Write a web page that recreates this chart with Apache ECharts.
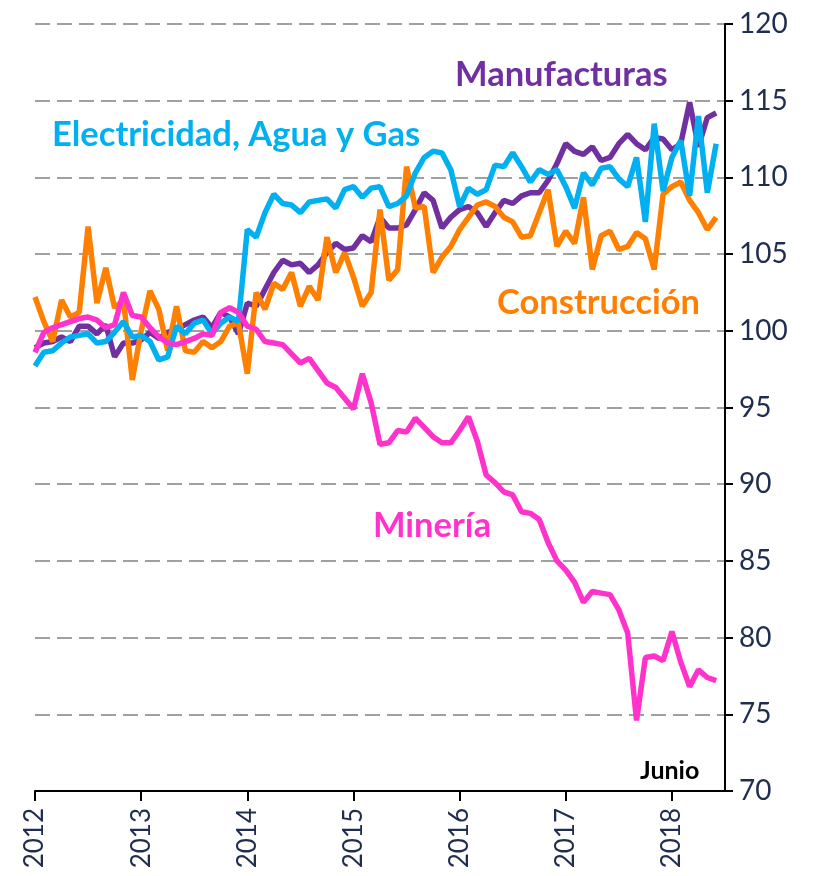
<!doctype html>
<html lang="es">
<head>
<meta charset="UTF-8" />
<title>Producción por sector</title>
<script src="https://cdn.jsdelivr.net/npm/echarts@6/dist/echarts.min.js"></script>
<style>
  body { margin: 0; padding: 0; background: #fff; }
  .main { width: 815px; height: 876px; }
</style>
</head>
<body>
<div class="main"></div>
<script>
  // meses desde enero 2012; el eje llega hasta julio 2018 (dato final: junio)
  const years = [2012, 2013, 2014, 2015, 2016, 2017, 2018];
  const months = [];
  years.forEach((y) => {
    for (let m = 1; m <= 12; m++) {
      if (y === 2018 && m > 7) break;
      months.push(y + "-" + (m < 10 ? "0" + m : m));
    }
  });

  const manufacturas = [
    98.9, 99.2, 99.3, 99.6, 99.3, 100.3, 100.3, 99.8, 100.4, 98.3, 99.2, 99.2,
    99.4, 99.9, 99.5, 99.9, 100.1, 100.4, 100.7, 100.9, 100.2, 101.2, 100.9, 99.8,
    101.8, 101.6, 102.7, 103.8, 104.6, 104.3, 104.4, 103.8, 104.3, 105.1, 105.7, 105.3,
    105.4, 106.2, 105.8, 107.4, 106.7, 106.7, 106.9, 107.9, 109.0, 108.5, 106.7, 107.4,
    107.9, 108.1, 107.7, 106.8, 107.7, 108.5, 108.3, 108.8, 109.0, 109.0, 109.8, 110.9,
    112.2, 111.7, 111.5, 112.0, 111.1, 111.3, 112.2, 112.8, 112.2, 111.8, 112.6, 112.5,
    111.8, 112.2, 114.9, 112.0, 113.9, 114.2
  ];

  const construccion = [
    102.2, 100.6, 99.3, 102.0, 100.9, 101.2, 106.8, 101.8, 104.1, 101.5, 102.0, 96.8,
    100.0, 102.6, 101.4, 98.7, 101.6, 98.7, 98.6, 99.3, 98.9, 99.3, 100.3, 100.5,
    97.2, 102.5, 101.4, 103.1, 102.7, 103.8, 101.6, 102.9, 102.0, 106.1, 103.8, 105.1,
    103.5, 101.6, 102.5, 107.9, 103.3, 104.0, 110.7, 108.0, 108.1, 103.8, 104.8, 105.5,
    106.6, 107.4, 108.2, 108.4, 108.1, 107.4, 107.1, 106.1, 106.2, 107.7, 109.2, 105.5,
    106.5, 105.7, 108.7, 104.0, 106.2, 106.5, 105.3, 105.5, 106.4, 106.0, 104.0, 108.9,
    109.4, 109.7, 108.5, 107.7, 106.6, 107.4
  ];

  const electricidad = [
    97.7, 98.6, 98.7, 99.2, 99.6, 99.7, 99.8, 99.2, 99.3, 99.9, 100.6, 99.6,
    99.7, 99.3, 98.1, 98.3, 100.3, 99.8, 100.5, 100.7, 99.8, 100.5, 100.9, 100.6,
    106.6, 106.1, 107.7, 108.9, 108.3, 108.2, 107.7, 108.4, 108.5, 108.6, 108.0, 109.2,
    109.4, 108.7, 109.3, 109.4, 108.1, 108.3, 108.8, 110.3, 111.3, 111.7, 111.6, 110.5,
    108.1, 109.3, 108.9, 109.2, 110.8, 110.7, 111.6, 110.7, 109.7, 110.5, 110.2, 110.5,
    109.4, 108.0, 110.3, 109.5, 110.6, 110.7, 109.9, 109.4, 111.3, 107.1, 113.5, 109.1,
    111.3, 112.4, 108.8, 114.0, 109.0, 112.2
  ];

  const mineria = [
    98.6, 99.9, 100.2, 100.4, 100.6, 100.8, 100.9, 100.7, 100.2, 100.4, 102.5, 101.0,
    100.9, 100.2, 99.6, 99.2, 99.1, 99.3, 99.5, 99.8, 99.7, 101.2, 101.5, 101.2,
    100.3, 100.1, 99.3, 99.2, 99.1, 98.5, 97.9, 98.2, 97.4, 96.6, 96.3, 95.6,
    94.9, 97.2, 95.3, 92.6, 92.7, 93.5, 93.4, 94.3, 93.7, 93.1, 92.7, 92.7,
    93.5, 94.4, 92.8, 90.6, 90.1, 89.5, 89.3, 88.2, 88.1, 87.7, 86.2, 85.0,
    84.4, 83.6, 82.3, 83.0, 82.9, 82.8, 81.8, 80.3, 74.6, 78.7, 78.8, 78.5,
    80.4, 78.4, 76.8, 77.9, 77.4, 77.2
  ];

  const colores = {
    manufacturas: "#7030a0",
    construccion: "#ff7f00",
    electricidad: "#00b0f0",
    mineria: "#ff33cc",
  };

  const myChart = echarts.init(document.querySelector(".main"));

  const linea = (name, data, color) => ({
    name: name,
    type: "line",
    data: data,
    symbol: "none",
    smooth: false,
    lineStyle: { color: color, width: 5.5 },
    itemStyle: { color: color },
  });

  const etiqueta = (text, left, top, color, size) => ({
    type: "text",
    left: left,
    top: top,
    style: {
      text: text,
      fill: color,
      font: "bold " + size + "px Lato, 'Open Sans', sans-serif",
    },
  });

  const option = {
    animation: false,
    backgroundColor: "#fff",
    grid: { left: 35, right: 90, top: 24, bottom: 85 },
    xAxis: {
      type: "category",
      data: months,
      boundaryGap: false,
      axisLine: { lineStyle: { color: "#000", width: 2 } },
      axisTick: { interval: 11, length: 10, lineStyle: { color: "#000", width: 2 } },
      axisLabel: {
        interval: 11,
        rotate: 90,
        margin: 17,
        padding: [12, 0, 0, 0],
        color: "#1f2d4f",
        fontSize: 26,
        fontFamily: "Lato, sans-serif",
        formatter: (v) => v.slice(0, 4),
      },
      splitLine: { show: false },
    },
    yAxis: {
      type: "value",
      position: "right",
      min: 70,
      max: 120,
      interval: 5,
      axisLine: { show: true, lineStyle: { color: "#000", width: 2 } },
      axisTick: { show: true, length: 8, lineStyle: { color: "#000", width: 2 } },
      axisLabel: {
        margin: 14,
        color: "#1f2d4f",
        fontSize: 28,
        fontFamily: "Lato, sans-serif",
      },
      splitLine: {
        show: true,
        lineStyle: { color: "#a0a0a0", width: 2, type: [15, 7] },
      },
    },
    series: [
      linea("Manufacturas", manufacturas, colores.manufacturas),
      linea("Construcción", construccion, colores.construccion),
      linea("Electricidad, Agua y Gas", electricidad, colores.electricidad),
      linea("Minería", mineria, colores.mineria),
    ],
    graphic: [
      etiqueta("Manufacturas", 455, 57, colores.manufacturas, 34.5),
      etiqueta("Electricidad, Agua y Gas", 52, 117, colores.electricidad, 34.5),
      etiqueta("Construcción", 497, 285, colores.construccion, 34.5),
      etiqueta("Minería", 373, 508, colores.mineria, 34.5),
      etiqueta("Junio", 640, 758, "#000", 25),
    ],
  };

  myChart.setOption(option);
</script>
</body>
</html>
